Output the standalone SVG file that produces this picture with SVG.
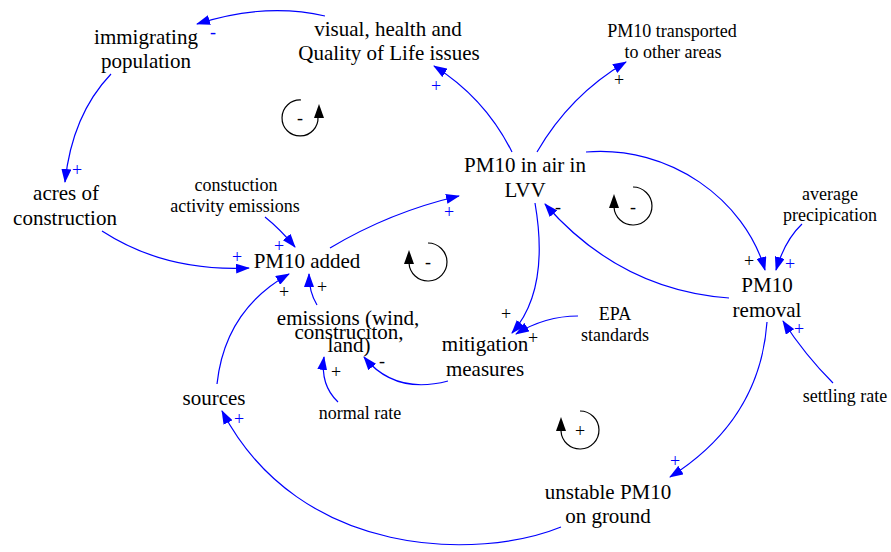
<svg xmlns="http://www.w3.org/2000/svg" width="891" height="552" viewBox="0 0 891 552">
<defs>
<marker id="ah" viewBox="0 0 14 10" refX="13" refY="5" markerWidth="14" markerHeight="10" markerUnits="userSpaceOnUse" orient="auto">
<path d="M0,0 L14,5 L0,10 Z" fill="#0000FF"/>
</marker>
<style>
.bg{fill:#FFFFFF}
.t{font-family:'Liberation Serif','DejaVu Serif',serif;text-anchor:middle;fill:#000000}
.m{font-size:21px}
.s{font-size:18px}
.p{font-size:18px}
.pb{fill:#0000FF}
.lk{fill:none;stroke:#0000FF;stroke-width:1.2;marker-end:url(#ah)}
.loop{fill:none;stroke:#000000;stroke-width:1.2}
.lh{fill:#000000}
</style>
</defs>
<rect class="bg" x="0" y="0" width="891" height="552"/>

<g id="connectors">
<path class="lk" d="M325,16 Q265,2 197,24"/>
<path class="lk" d="M111,74 Q72,115 65,182"/>
<path class="lk" d="M102,231 Q165,272 249,268"/>
<path class="lk" d="M265,217 Q280,229 295,247"/>
<path class="lk" d="M330,248 Q390,212 459,196"/>
<path class="lk" d="M512,152 Q485,98 434,66"/>
<path class="lk" d="M537,152 Q570,95 626,62"/>
<path class="lk" d="M586,152 C670,145 745,200 765,270"/>
<path class="lk" d="M802,224 Q785,240 776,270"/>
<path class="lk" d="M729,298 Q620,290 545,204"/>
<path class="lk" d="M535,203 Q550,290 512,333"/>
<path class="lk" d="M578,316 Q545,316 516,334"/>
<path class="lk" d="M448,381 Q395,395 364,357"/>
<path class="lk" d="M338,402 Q320,385 324,357"/>
<path class="lk" d="M317,305 Q309,292 309,274"/>
<path class="lk" d="M217,384 Q225,310 289,274"/>
<path class="lk" d="M561,527 C480,560 300,560 222,411"/>
<path class="lk" d="M767,322 Q760,420 670,477"/>
<path class="lk" d="M833,383 Q805,355 783,321"/>
<g font-family="Liberation Serif, DejaVu Serif, serif">
<text class="t p pb" x="213" y="38">-</text>
<text class="t p pb" x="77" y="176">+</text>
<text class="t p pb" x="237" y="263">+</text>
<text class="t p pb" x="279" y="252">+</text>
<text class="t p pb" x="449" y="218">+</text>
<text class="t p pb" x="436" y="92">+</text>
<text class="t p" x="619" y="86">+</text>
<text class="t p" x="749" y="267">+</text>
<text class="t p pb" x="790" y="270">+</text>
<text class="t p" x="558" y="213">-</text>
<text class="t p" x="506" y="320">+</text>
<text class="t p" x="533" y="344">+</text>
<text class="t p" x="382" y="367">-</text>
<text class="t p" x="336" y="378">+</text>
<text class="t p" x="322" y="293">+</text>
<text class="t p" x="284" y="298">+</text>
<text class="t p pb" x="239" y="425">+</text>
<text class="t p pb" x="675" y="467">+</text>
<text class="t p pb" x="799" y="335">+</text>
</g>
</g>

<g id="loop1" font-family="Liberation Serif, DejaVu Serif, serif">
<path class="loop" d="M301,100 A18,18 0 1 0 318,117"/>
<path class="lh" d="M319,104 L314,118 L324,118 Z"/>
<text class="t p" x="300" y="124">-</text>
</g>
<g id="loop2" font-family="Liberation Serif, DejaVu Serif, serif">
<path class="loop" d="M428,243 A19,19 0 1 1 409,263"/>
<path class="lh" d="M409,250 L404,264 L414,264 Z"/>
<text class="t p" x="428" y="268">-</text>
</g>
<g id="loop3" font-family="Liberation Serif, DejaVu Serif, serif">
<path class="loop" d="M633,187 A19,19 0 1 1 614,207"/>
<path class="lh" d="M614,194 L609,208 L619,208 Z"/>
<text class="t p" x="633" y="213">-</text>
</g>
<g id="loop4" font-family="Liberation Serif, DejaVu Serif, serif">
<path class="loop" d="M580,411 A19,19 0 1 1 561,431"/>
<path class="lh" d="M561,417 L556,431 L566,431 Z"/>
<text class="t p" x="580" y="437">+</text>
</g>

<g font-family="Liberation Serif, DejaVu Serif, serif">
<g id="immigrating_population"><text class="t m" x="146" y="44">immigrating</text><text class="t m" x="146" y="68">population</text></g>
<g id="visual_health"><text class="t m" x="388" y="36">visual, health and</text><text class="t m" x="389" y="60">Quality of Life issues</text></g>
<g id="pm10_transported"><text class="t s" x="672" y="37">PM10 transported</text><text class="t s" x="673" y="58">to other areas</text></g>
<g id="pm10_in_air"><text class="t m" x="525" y="172">PM10 in air in</text><text class="t m" x="525" y="197">LVV</text></g>
<g id="acres_of_construction"><text class="t m" x="66" y="200">acres of</text><text class="t m" x="65" y="225">construction</text></g>
<g id="construction_activity"><text class="t s" x="236" y="191">constuction</text><text class="t s" x="235" y="212">activity emissions</text></g>
<g id="pm10_added"><text class="t m" x="307" y="268">PM10 added</text></g>
<g id="average_precipitation"><text class="t s" x="830" y="200">average</text><text class="t s" x="830" y="221">precipication</text></g>
<g id="pm10_removal"><text class="t m" x="767" y="292">PM10</text><text class="t m" x="767" y="317">removal</text></g>
<g id="emissions"><text class="t m" x="348" y="325">emissions (wind,</text><text class="t m" x="349" y="339">construciton,</text><text class="t m" x="349" y="352">land)</text></g>
<g id="mitigation_measures"><text class="t m" x="485" y="351">mitigation</text><text class="t m" x="485" y="376">measures</text></g>
<g id="epa_standards"><text class="t s" x="615" y="320">EPA</text><text class="t s" x="615" y="341">standards</text></g>
<g id="sources"><text class="t m" x="214" y="405">sources</text></g>
<g id="normal_rate"><text class="t s" x="360" y="419">normal rate</text></g>
<g id="settling_rate"><text class="t s" x="845" y="402">settling rate</text></g>
<g id="unstable_pm10"><text class="t m" x="608" y="499">unstable PM10</text><text class="t m" x="608" y="523">on ground</text></g>
</g>
</svg>
